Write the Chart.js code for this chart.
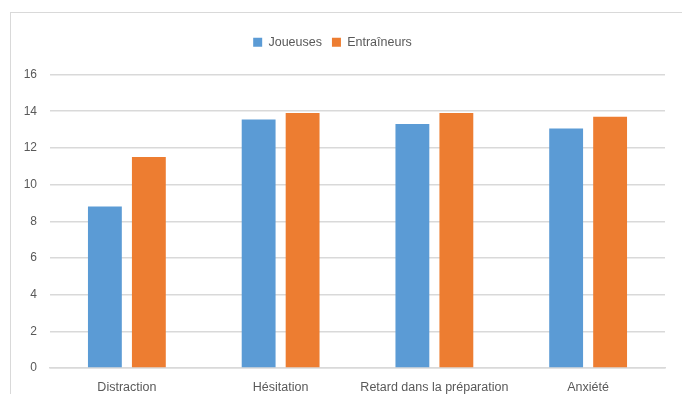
<!DOCTYPE html>
<html>
<head>
<meta charset="utf-8">
<script src="https://cdn.jsdelivr.net/npm/chart.js@4"></script>
<style>
  html, body { margin: 0; padding: 0; background: #fff; }
  #wrap { position: relative; width: 682px; height: 394px; overflow: hidden; }
  #frame { position: absolute; left: 10px; top: 12px; width: 700px; height: 400px; border: 1px solid #d9d9d9; }
  canvas { position: absolute; left: 0; top: 0; }
</style>
</head>
<body>
<div id="wrap">
  <div id="frame"></div>
  <canvas id="chart" width="682" height="394"></canvas>
</div>
<script>
const categories  = ['Distraction', 'Hésitation', 'Retard dans la préparation', 'Anxiété']
const joueuses    = [8.8, 13.55, 13.3, 13.05]
const entraineurs = [11.5, 13.9, 13.9, 13.7]
const yTicks      = [0, 2, 4, 6, 8, 10, 12, 14, 16]

const BLUE   = '#5B9BD5'
const ORANGE = '#ED7D31'
const TEXT   = '#595959'
const GRID   = '#d9d9d9'

Chart.defaults.font.family = "'Liberation Sans', Arial, sans-serif"
Chart.defaults.color = TEXT

// extra space between the legend and the plot, like the Excel original
const legendGap = {
  id: 'legendGap',
  beforeInit(chart) {
    const fit = chart.legend.fit
    chart.legend.fit = function () {
      fit.call(this)
      this.height += 16
    }
  }
}

new Chart(document.getElementById('chart'), {
  type: 'bar',
  data: {
    labels: categories,
    datasets: [
      { label: 'Joueuses',    data: joueuses,    backgroundColor: BLUE },
      { label: 'Entraîneurs', data: entraineurs, backgroundColor: ORANGE }
    ]
  },
  plugins: [legendGap],
  options: {
    responsive: false,
    animation: false,
    categoryPercentage: 0.572,
    barPercentage: 0.77,
    layout: { padding: { left: 0, right: 17, top: 26, bottom: 0 } },
    plugins: {
      tooltip: { enabled: false },
      legend: {
        position: 'top',
        labels: { boxWidth: 9, boxHeight: 9, padding: 10, font: { size: 12.5 }, color: TEXT }
      }
    },
    scales: {
      x: {
        grid: { display: false },
        border: { color: GRID, width: 1.5 },
        ticks: { font: { size: 12.5 }, padding: 4, maxRotation: 0, autoSkip: false },
        afterFit: s => { s.height = 26 }
      },
      y: {
        min: 0,
        max: 16,
        afterBuildTicks: s => { s.ticks = yTicks.map(v => ({ value: v })) },
        grid: { color: GRID, lineWidth: 1.5, drawTicks: false },
        border: { display: false },
        ticks: { font: { size: 12 }, padding: 13 },
        afterFit: s => { s.width = 50 }
      }
    }
  }
})
</script>
</body>
</html>
